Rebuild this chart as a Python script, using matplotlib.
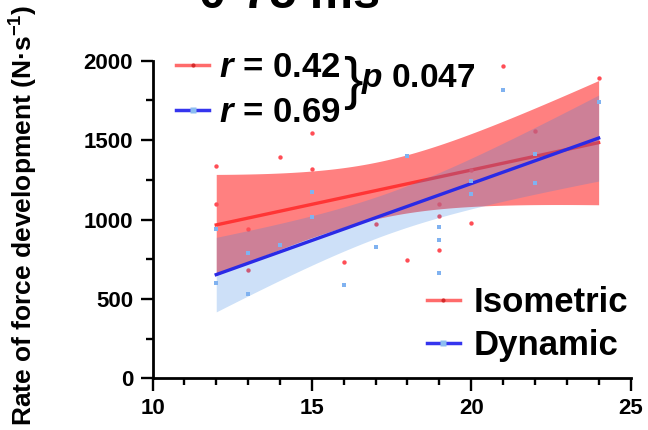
import numpy as np
import matplotlib
matplotlib.use("Agg")
import matplotlib.pyplot as plt
from matplotlib.lines import Line2D
from matplotlib.ticker import MultipleLocator

plt.rcParams["font.family"] = ["Liberation Sans", "DejaVu Sans"]
plt.rcParams["mathtext.fontset"] = "custom"
plt.rcParams["mathtext.it"] = "Liberation Sans:italic:bold"
plt.rcParams["mathtext.rm"] = "Liberation Sans:bold"

# ------------------------------
# Data
# ------------------------------
iso_x = [12, 12, 13, 13, 14, 15, 15, 16, 17, 18, 19, 19, 19, 20, 20, 21, 22, 24]
iso_y = [1335, 1095, 938, 684, 1393, 1545, 1320, 735, 973, 748, 1100, 1020, 811, 1310, 980, 1965, 1560, 1890]

dyn_x = [12, 12, 13, 13, 14, 15, 15, 16, 17, 18, 19, 19, 19, 20, 20, 21, 22, 22, 24]
dyn_y = [942, 601, 789, 534, 839, 1175, 1015, 587, 824, 1400, 950, 870, 665, 1240, 1160, 1815, 1410, 1230, 1740]

r_labels = ["$r$ = 0.42", "$r$ = 0.69"]
p_label = "$p$ 0.047"
group_labels = ["Isometric", "Dynamic"]
t_crit = {16: 2.120, 17: 2.110}

red_band = "#ff8080"
red_line = "#ff3535"
red_pts = "#ff4d55"
blue_band = (46 / 255, 128 / 255, 226 / 255, 0.24)
blue_line = "#2a2ae6"
blue_pts = "#80b2f0"


def fit_with_ci(x, y):
    x = np.asarray(x, float)
    y = np.asarray(y, float)
    n = len(x)
    slope, icpt = np.polyfit(x, y, 1)
    resid = y - (slope * x + icpt)
    s = np.sqrt(np.sum(resid ** 2) / (n - 2))
    sxx = np.sum((x - x.mean()) ** 2)
    xx = np.linspace(x.min(), x.max(), 200)
    yy = slope * xx + icpt
    half = t_crit[n - 2] * s * np.sqrt(1 / n + (xx - x.mean()) ** 2 / sxx)
    return xx, yy, yy - half, yy + half


fig = plt.figure(figsize=(6.48, 4.30), dpi=100)
ax = fig.add_axes([152.5 / 648, 1 - 378.3 / 430, 478 / 648, 317.6 / 430])

# isometric (drawn first, blue band sits on top of it)
xx, yy, lo, hi = fit_with_ci(iso_x, iso_y)
ax.fill_between(xx, lo, hi, color=red_band, lw=0, zorder=1)
ax.plot(xx, yy, color=red_line, lw=2.4, zorder=2)
ax.scatter(iso_x, iso_y, s=10, color=red_pts, lw=0, zorder=3)

# dynamic
xx, yy, lo, hi = fit_with_ci(dyn_x, dyn_y)
ax.fill_between(xx, lo, hi, color=blue_band, lw=0, zorder=4)
ax.plot(xx, yy, color=blue_line, lw=2.4, zorder=5)
ax.scatter(dyn_x, dyn_y, s=10, color=blue_pts, marker="s", lw=0, zorder=6)

ax.set_xlim(10, 25)
ax.set_ylim(0, 2000)
ax.xaxis.set_major_locator(MultipleLocator(5))
ax.xaxis.set_minor_locator(MultipleLocator(1))
ax.yaxis.set_major_locator(MultipleLocator(500))
ax.yaxis.set_minor_locator(MultipleLocator(250))
for side in ["top", "right"]:
    ax.spines[side].set_visible(False)
for side in ["left", "bottom"]:
    ax.spines[side].set_linewidth(2.0)
ax.tick_params(which="major", length=9, width=1.7, labelsize=16, pad=5)
ax.tick_params(which="minor", length=5, width=1.7)
for lab in ax.get_xticklabels() + ax.get_yticklabels():
    lab.set_fontweight("bold")

# legends
h_iso = Line2D([], [], color="#ff6b6b", lw=2.5, marker="o", ms=3, mfc="#d42a2a", mec="none")
h_dyn = Line2D([], [], color="#3535ee", lw=2.5, marker="s", ms=4, mfc="#8cbdf0", mec="none")

leg1 = ax.legend([h_iso, h_dyn], r_labels, loc="upper left", bbox_to_anchor=(0.05, 1.03),
                 frameon=False, borderpad=0, borderaxespad=0, handlelength=0.95,
                 handletextpad=0.28, labelspacing=0.35, prop={"size": 25, "weight": "bold"})
ax.add_artist(leg1)
ax.legend([h_iso, h_dyn], group_labels, loc="upper left", bbox_to_anchor=(0.574, 0.29),
          frameon=False, borderpad=0, borderaxespad=0, handlelength=0.95,
          handletextpad=0.4, labelspacing=0.28, prop={"size": 25, "weight": "bold"})

ax.text(15.98, 1860, "}", fontsize=42, va="center", ha="left")
ax.text(16.55, 1885, p_label, fontsize=24, fontweight="bold", va="center", ha="left")

fig.text(24 / 648, 0.5, "Rate of force development (N\u00b7s$^{-1}$)", rotation=90,
         fontsize=19, fontweight="bold", ha="center", va="center")
fig.text(290 / 648, 1 - 8 / 430, "0-75 ms", fontsize=35, fontweight="bold",
         ha="center", va="baseline")

fig.savefig("out.png", dpi=100)
